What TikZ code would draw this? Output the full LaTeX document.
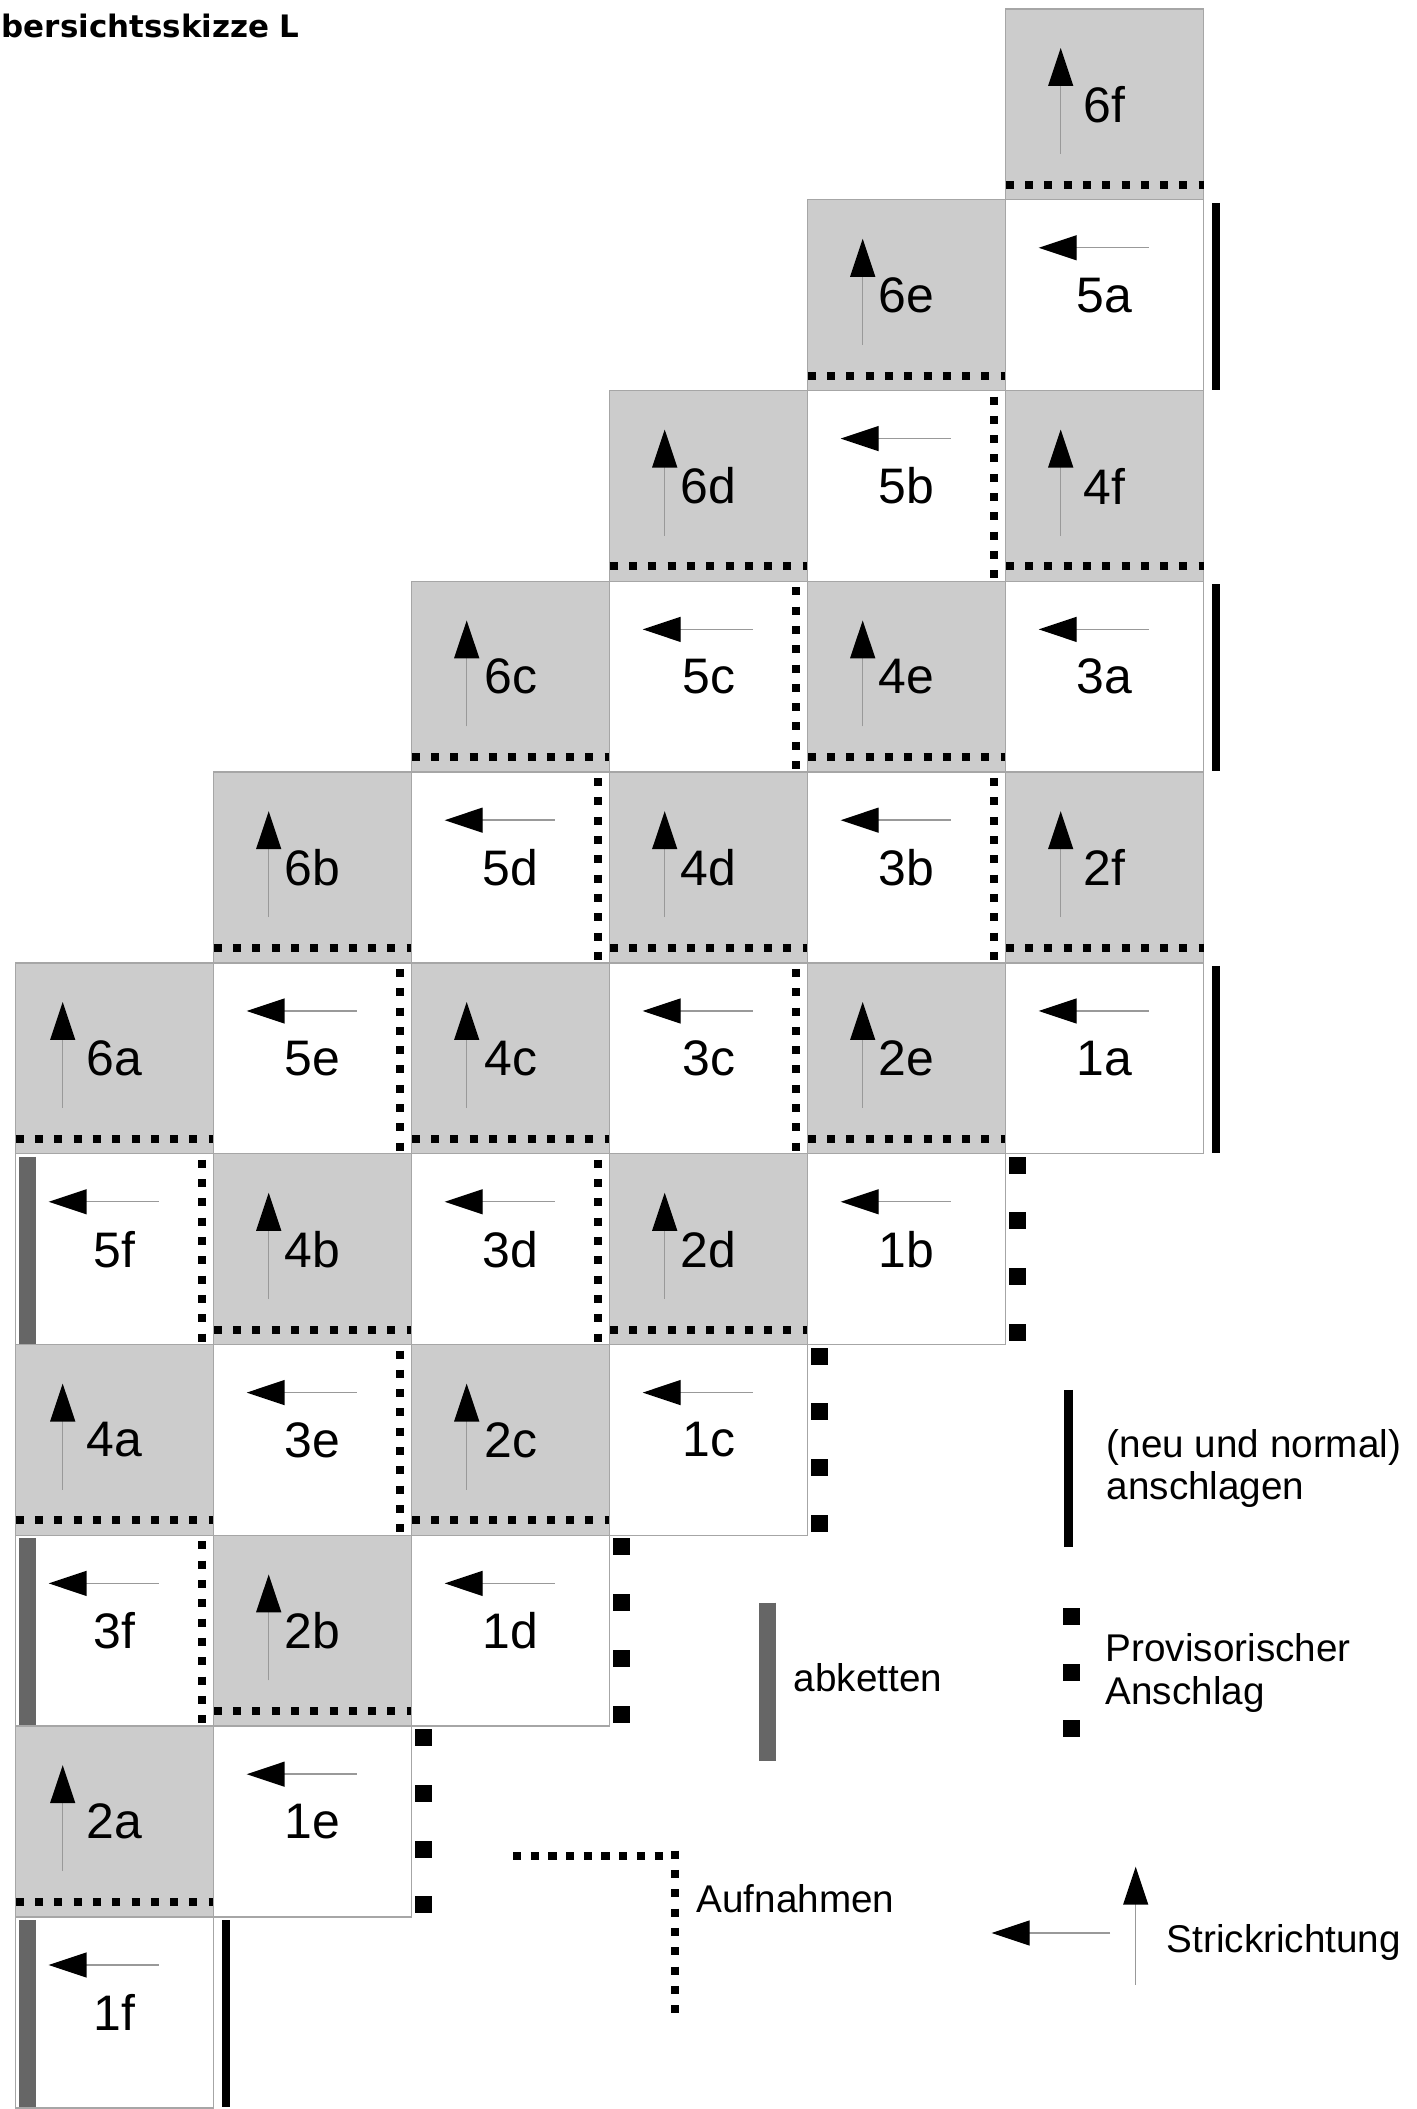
\documentclass[tikz,border=0pt]{standalone}
\usepackage{fontspec}
\setmainfont{Liberation Sans}
\newfontfamily\titelfont{DejaVu Sans}
\usetikzlibrary{calc,arrows.meta}

\tikzset{
  feld/.style={draw=black!35, line width=0.4pt, outer sep=0pt, inner sep=0pt,
    minimum width=1.98cm, minimum height=1.908cm, font=\fontsize{14.2}{16}\selectfont},
  graufeld/.style={feld, fill=black!20},
  weissfeld/.style={feld, fill=white},
  aufnahme/.style={line width=0.08cm, dash pattern=on 0.08cm off 0.113cm},
  abketten/.style={line width=0.167cm, draw=black!60},
  anschlag/.style={line width=0.08cm},
  richtung/.style={draw=black!40, line width=0.4pt,
    -{Triangle[length=0.38cm,width=0.25cm,color=black]}},
  legende/.style={font=\fontsize{11}{12}\selectfont, inner sep=0pt, align=left},
}

\begin{document}
\begin{tikzpicture}
  \useasboundingbox (0,0) rectangle (14.16,21.09);

  % Titel
  \node[anchor=base west, inner sep=0pt, font=\titelfont\bfseries\fontsize{8.8}{10}\selectfont]
    (titel) at (0.01,20.71) {bersichtsskizze L};

  % graue Felder, Strickrichtung nach oben
  \foreach \name/\spalte/\zeile/\ax in {6f/5/0/0.55, 6e/4/1/0.55, 6d/3/2/0.55, 4f/5/2/0.55,
      6c/2/3/0.55, 4e/4/3/0.55, 6b/1/4/0.55, 4d/3/4/0.55, 2f/5/4/0.55,
      6a/0/5/0.47, 4c/2/5/0.55, 2e/4/5/0.55, 4b/1/6/0.55, 2d/3/6/0.55,
      4a/0/7/0.47, 2c/2/7/0.55, 2b/1/8/0.55, 2a/0/9/0.47}{
    \node[graufeld] (f\name) at ({1.147+1.98*\spalte},{20.046-1.908*\zeile}) {\name};
    \draw[richtung] ($(f\name.north west)+(\ax,-1.45)$) -- ($(f\name.north west)+(\ax,-0.39)$);
    \draw[aufnahme] ($(f\name.south west)+(0,0.15)$) -- ($(f\name.south east)+(0,0.15)$);
  }

  % weisse Felder, Strickrichtung nach links
  \foreach \name/\spalte/\zeile in {5a/5/1, 5b/4/2, 5c/3/3, 3a/5/3, 5d/2/4, 3b/4/4,
      5e/1/5, 3c/3/5, 1a/5/5, 5f/0/6, 3d/2/6, 1b/4/6, 3e/1/7, 1c/3/7,
      3f/0/8, 1d/2/8, 1e/1/9, 1f/0/10}{
    \node[weissfeld] (f\name) at ({1.147+1.98*\spalte},{20.046-1.908*\zeile}) {\name};
    \draw[richtung] ($(f\name.north west)+(1.43,-0.48)$) -- ($(f\name.north west)+(0.33,-0.48)$);
  }

  % Aufnahmen am rechten Rand
  \foreach \name in {5b,5c,5d,3b,5e,3c,5f,3d,3e,3f}
    \draw[aufnahme] ($(f\name.north east)+(-0.12,-0.06)$) -- ($(f\name.south east)+(-0.12,0)$);

  % anschlagen
  \foreach \name in {5a,3a,1a,1f}
    \draw[anschlag] ($(f\name.north east)+(0.123,-0.03)$) -- ($(f\name.south east)+(0.123,0.01)$);

  % abketten
  \foreach \name in {5f,3f,1f}
    \draw[abketten] ($(f\name.north west)+(0.117,-0.03)$) -- ($(f\name.south west)+(0.117,0.01)$);

  % provisorischer Anschlag
  \foreach \name in {1b,1c,1d,1e}
    \foreach \k in {0,...,3}
      \fill ($(f\name.north east)+(0.03,-0.03-0.557*\k)$) rectangle +(0.17,-0.17);

  % Legende
  \draw[anschlag, line width=0.09cm] (10.685,7.19) -- (10.685,5.62);
  \node[legende, anchor=west] (lanschlag) at (11.06,6.405) {(neu und normal)\\anschlagen};

  \draw[abketten] (7.673,5.063) -- (7.673,3.48);
  \node[legende, anchor=base west] (labketten) at (7.93,4.17) {abketten};

  \foreach \k in {0,1,2}
    \fill (10.625,{5.01-0.56*\k}) rectangle +(0.17,-0.17);
  \node[legende, anchor=west] (lprovi) at (11.05,4.36) {Provisorischer\\Anschlag};

  \draw[aufnahme, dash pattern=on 0.083cm off 0.094cm] (5.13,2.527) -- (6.63,2.527);
  \draw[aufnahme] (6.747,2.583) -- (6.747,0.95);
  \node[legende, anchor=base west] (laufnahme) at (6.96,1.96) {Aufnahmen};

  \draw[richtung] (11.10,1.76) -- (9.917,1.76);
  \draw[richtung] (11.357,1.24) -- (11.357,2.423);
  \node[legende, anchor=base west] (lrichtung) at (11.66,1.56) {Strickrichtung};
\end{tikzpicture}
\end{document}
